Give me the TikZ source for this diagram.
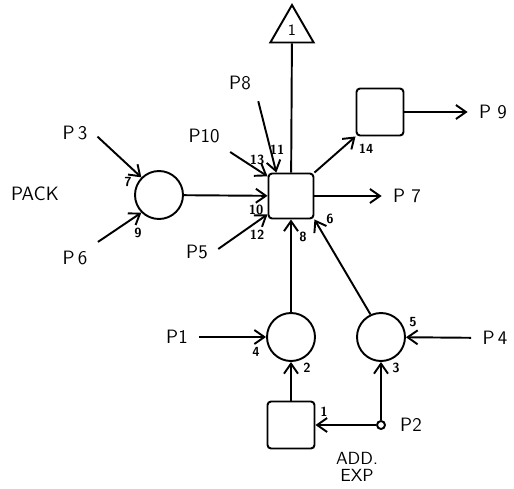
\documentclass[tikz,border=0pt]{standalone}
\usetikzlibrary{arrows.meta,shapes.geometric}
\begin{document}
\begin{tikzpicture}[
    x=0.02cm, y=-0.02cm,
    font=\sffamily\fontsize{11}{13}\selectfont,
    box/.style={draw, line width=1.1pt, rounded corners=2pt, minimum size=#1, inner sep=0pt},
    place/.style={draw, line width=1.1pt, circle, minimum size=0.96cm, inner sep=0pt},
    arr/.style={-{Straight Barb[length=2mm, width=2.8mm]}, line width=1.1pt},
    feed/.style={arr, shorten <=3pt},
    num/.style={font=\sffamily\bfseries\fontsize{7.5}{8}\selectfont, inner sep=0pt}
]
\useasboundingbox (0,0) rectangle (514,488);
% Transitions and places
\node[box=0.9cm] (main) at (291,196) {};
\node[box=0.94cm] (outbox) at (380,112) {};
\node[box=0.94cm] (addbox) at (291,425) {};
\node[draw, line width=1.1pt, regular polygon, regular polygon sides=3, minimum size=1cm, inner sep=0pt, font=\sffamily\fontsize{9}{10}\selectfont] (tri) at (292,30) {1};
\node[place] (pack) at (159,195) {};
\node[place] (add) at (291,337) {};
\node[place] (exp) at (381,337) {};
\node[draw, line width=1.1pt, circle, minimum size=0.16cm, inner sep=0pt] (p2dot) at (381,425) {};

% Port labels
\node (pack-lbl) at (35,194) {PACK};
\node (p3) at (75,133) {P\,3};
\node (p6) at (75,258) {P\,6};
\node (p10) at (204,136) {P10};
\node (p8) at (240,83) {P8};
\node (p5) at (197,252) {P5};
\node (p7) at (407,196) {P\ 7};
\node (p9) at (493,112) {P\ 9};
\node (p1) at (177,337) {P1};
\node (p4) at (495,338) {P\,4};
\node (p2) at (411,425) {P2};
\node[align=center, font=\sffamily\fontsize{10}{9.5}\selectfont] (addexp) at (357,467) {ADD.\\EXP};

% Connectors
\draw[line width=1.1pt] (main) -- (tri);
\draw[feed] (p3.east) -- (pack.135);
\draw[feed] (p6.north east) -- (pack.225);
\draw[arr] (pack) -- (main);
\draw[feed] (p10.south east) -- (main.140);
\draw[feed] (p8.south east) -- (main.122);
\draw[feed] (p5.east) -- (main.218);
\draw[arr, shorten >=3pt] (main) -- (p7);
\draw[arr] (main.north east) -- (outbox.south west);
\draw[arr, shorten >=3pt] (outbox) -- (p9);
\draw[arr] (add) -- (main);
\draw[arr] (exp.115) -- (main.south east);
\draw[feed] (p1) -- (add);
\draw[feed] (p4) -- (exp);
\draw[arr] (addbox) -- (add);
\draw[arr] (p2dot) -- (exp);
\draw[arr] (p2dot) -- (addbox);

% Arc numbers
\node[num] (n1) at (324,412) {1};
\node[num] (n2) at (307,368) {2};
\node[num] (n3) at (396,368) {3};
\node[num] (n4) at (256,352) {4};
\node[num] (n5) at (413,322) {5};
\node[num] (n6) at (330,219) {6};
\node[num] (n7) at (128,182) {7};
\node[num] (n8) at (303,237) {8};
\node[num] (n9) at (138,233) {9};
\node[num] (n10) at (256,210) {10};
\node[num] (n11) at (277,150) {11};
\node[num] (n12) at (257,235) {12};
\node[num] (n13) at (257,160) {13};
\node[num] (n14) at (366,149) {14};
\end{tikzpicture}
\end{document}
